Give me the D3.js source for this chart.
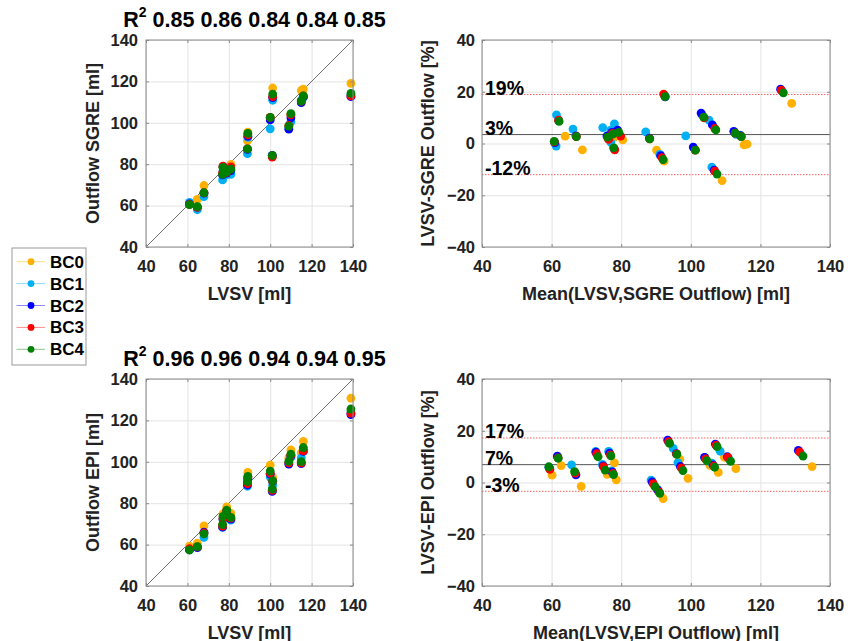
<!DOCTYPE html>
<html><head><meta charset="utf-8">
<script src="https://cdn.jsdelivr.net/npm/d3@7"></script>
<style>
body{margin:0;background:#fff}
text{font-family:"Liberation Sans",Arial,Helvetica,sans-serif;font-weight:bold;}
</style>
</head><body>
<svg id="c" width="848" height="641"></svg>
<script>
// ---------------- data ----------------
const bcLabels = ["BC0", "BC1", "BC2", "BC3", "BC4"];
const bcColors = ["#ffb000", "#00b0f5", "#0000ff", "#ff0000", "#008000"];

// LVSV per subject [ml]
const lvsv = [61.0, 64.8, 68.0, 77.0, 77.2, 79.0, 81.0, 89.0, 89.2, 100.0, 101.0, 101.2, 109.0, 110.0, 115.0, 116.0, 139.0];

// SGRE outflow [ml] per boundary condition
const sgreBC0 = [61.0, 63.0, 69.7, 75.5, 78.5, 77.1, 79.9, 91.3, 95.5, 102.5, 84.0, 116.8, 98.0, 104.0, 115.6, 116.3, 119.0];
const sgreBC1 = [61.6, 58.0, 64.3, 72.4, 76.9, 75.0, 75.1, 85.1, 93.0, 97.1, 84.0, 110.9, 97.5, 100.5, 111.0, 112.3, 113.5];
const sgreBC2 = [60.8, 59.3, 66.0, 74.8, 78.8, 75.7, 76.9, 87.2, 93.5, 101.4, 84.3, 112.2, 96.9, 102.4, 109.7, 112.5, 112.6];
const sgreBC3 = [60.6, 59.2, 66.2, 75.8, 79.1, 76.0, 78.7, 87.4, 94.2, 102.6, 83.4, 112.6, 98.7, 103.8, 110.5, 113.0, 113.0];
const sgreBC4 = [60.5, 59.5, 66.2, 75.1, 78.5, 76.2, 77.6, 87.4, 94.9, 102.6, 84.2, 113.9, 98.4, 104.4, 110.5, 113.0, 114.2];

// EPI outflow [ml] per boundary condition
const epiBC0 = [59.3, 60.7, 69.0, 69.6, 74.8, 78.2, 75.1, 90.2, 94.9, 98.4, 86.6, 92.5, 102.0, 105.8, 104.3, 109.9, 130.7];
const epiBC1 = [57.5, 58.8, 63.5, 68.3, 72.0, 75.5, 71.8, 88.2, 91.5, 92.6, 86.0, 88.7, 99.0, 102.1, 101.9, 106.0, 124.0];
const epiBC2 = [57.6, 58.5, 66.0, 68.5, 72.4, 75.8, 72.3, 88.8, 91.9, 94.0, 85.7, 90.5, 98.9, 102.8, 99.1, 105.0, 122.8];
const epiBC3 = [58.0, 58.9, 65.6, 68.9, 72.6, 76.3, 72.8, 89.4, 92.5, 94.5, 86.2, 90.6, 99.5, 103.2, 99.5, 105.3, 123.5];
const epiBC4 = [57.4, 59.0, 65.2, 69.7, 73.6, 76.6, 73.1, 90.4, 93.0, 95.5, 86.8, 90.8, 100.2, 103.7, 100.1, 106.9, 125.5];

const r2SGRE = [0.85, 0.86, 0.84, 0.84, 0.85];
const r2EPI = [0.96, 0.96, 0.94, 0.94, 0.95];

const xTicks = [40, 60, 80, 100, 120, 140];
const outflowTicks = [40, 60, 80, 100, 120, 140];
const diffTicks = [-40, -20, 0, 20, 40];

// Bland-Altman bias / limits of agreement [%] and their labels
const sgreBA = [3.45, 18.95, -12.05];
const sgreBALabels = ["3%", "19%", "-12%"];
const epiBA = [6.9, 17.2, -3.4];
const epiBALabels = ["7%", "17%", "-3%"];

// ---------------- drawing ----------------
const svg = d3.select("#c");
const gridCol = "#e3e3e3", frameCol = "#8a8a8a", txtCol = "#222";

function panel(x0, y0, w, h, xDom, yDom, yT) {
  const g = svg.append("g").attr("transform", `translate(${x0},${y0})`);
  const x = d3.scaleLinear().domain(xDom).range([0, w]);
  const y = d3.scaleLinear().domain(yDom).range([h, 0]);
  g.append("rect").attr("width", w).attr("height", h).attr("fill", "#fff");
  const gx = g.append("g").attr("transform", `translate(0,${h})`)
    .call(d3.axisBottom(x).tickValues(xTicks).tickSize(-h).tickFormat(""));
  const gy = g.append("g")
    .call(d3.axisLeft(y).tickValues(yT).tickSize(-w).tickFormat(""));
  [gx, gy].forEach(a => { a.select(".domain").remove(); a.selectAll("line").attr("stroke", gridCol); });
  const marks = g.append("g");
  const over = g.append("g");
  return {g, x, y, w, h, yT, marks, over};
}

function finish(p, xLabel, yLabel, yLabelX, padY) {
  const {g, x, y, w, h, yT} = p;
  const tk = [
    [d3.axisBottom(x).tickValues(xTicks), `translate(0,${h})`],
    [d3.axisTop(x).tickValues(xTicks), `translate(0,0)`],
    [d3.axisLeft(y).tickValues(yT), `translate(0,0)`],
    [d3.axisRight(y).tickValues(yT), `translate(${w},0)`]
  ];
  tk.forEach(([ax, tr]) => {
    const a = g.append("g").attr("transform", tr).call(ax.tickSize(-3).tickFormat(""));
    a.select(".domain").remove();
    a.selectAll("line").attr("stroke", frameCol);
  });
  g.append("rect").attr("width", w).attr("height", h).attr("fill", "none").attr("stroke", frameCol).attr("stroke-width", 1);
  const lx = g.append("g").attr("transform", `translate(0,${h})`)
    .call(d3.axisBottom(x).tickValues(xTicks).tickSize(0).tickPadding(13.5));
  const ly = g.append("g")
    .call(d3.axisLeft(y).tickValues(yT).tickSize(0).tickPadding(padY));
  [lx, ly].forEach(a => {
    a.select(".domain").remove();
    a.selectAll("text").attr("font-size", 16.5).attr("fill", txtCol)
      .attr("font-family", '"Liberation Sans",Arial,sans-serif').attr("font-weight", "bold");
  });
  g.append("text").attr("x", w / 2).attr("y", h + 52.5).attr("text-anchor", "middle")
    .attr("font-size", 18).attr("fill", txtCol).text(xLabel);
  g.append("text").attr("transform", `translate(${yLabelX},${h / 2}) rotate(-90)`)
    .attr("text-anchor", "middle").attr("font-size", 18).attr("fill", txtCol).text(yLabel);
}

function scatterPanel(x0, y0, series, r2, yLabel, titleY) {
  const p = panel(x0, y0, 207, 207, [40, 140], [40, 140], outflowTicks);
  p.marks.append("line")
    .attr("x1", p.x(40)).attr("y1", p.y(40)).attr("x2", p.x(140)).attr("y2", p.y(140))
    .attr("stroke", "#333").attr("stroke-width", 0.7);
  series.forEach((vals, b) => {
    p.marks.append("g").selectAll("circle").data(vals).join("circle")
      .attr("cx", (d, i) => p.x(lvsv[i])).attr("cy", d => p.y(d))
      .attr("r", 4.4).attr("fill", bcColors[b]);
  });
  finish(p, "LVSV [ml]", yLabel, -47, 8);
  const t = p.g.append("text").attr("x", p.w / 2 + 5).attr("y", titleY).attr("text-anchor", "middle")
    .attr("font-size", 21.5).attr("fill", "#000");
  t.append("tspan").text("R");
  t.append("tspan").attr("font-size", 14).attr("dy", -10).text("2");
  t.append("tspan").attr("dy", 10).text(" " + r2.map(v => v.toFixed(2)).join(" "));
}

function baPanel(x0, y0, series, lims, limLabels, xLabel, yLabel) {
  const p = panel(x0, y0, 348, 207, [40, 140], [-40, 40], diffTicks);
  lims.forEach((v, k) => {
    p.marks.append("line").attr("x1", 0).attr("x2", p.w).attr("y1", p.y(v)).attr("y2", p.y(v))
      .attr("stroke", k === 0 ? "#555" : "#ff6060").attr("stroke-width", 1)
      .attr("stroke-dasharray", k === 0 ? null : "1.5,1.5");
    p.over.append("text").attr("x", 3).attr("y", p.y(v) + 0.5).attr("font-size", 19.5).attr("fill", "#000")
      .text(limLabels[k]);
  });
  series.forEach((vals, b) => {
    const pts = vals.map((o, i) => {
      const m = (lvsv[i] + o) / 2;
      return {m, d: (lvsv[i] - o) / m * 100};
    });
    p.marks.append("g").selectAll("circle").data(pts).join("circle")
      .attr("cx", d => p.x(d.m)).attr("cy", d => p.y(d.d))
      .attr("r", 4.4).attr("fill", bcColors[b]);
  });
  finish(p, xLabel, yLabel, -48, 7);
}

scatterPanel(146, 40, [sgreBC0, sgreBC1, sgreBC2, sgreBC3, sgreBC4], r2SGRE, "Outflow SGRE [ml]", -13.5);
baPanel(482, 40, [sgreBC0, sgreBC1, sgreBC2, sgreBC3, sgreBC4], sgreBA, sgreBALabels,
  "Mean(LVSV,SGRE Outflow) [ml]", "LVSV-SGRE Outflow [%]");
scatterPanel(146, 379, [epiBC0, epiBC1, epiBC2, epiBC3, epiBC4], r2EPI, "Outflow EPI [ml]", -13.5);
baPanel(482, 379, [epiBC0, epiBC1, epiBC2, epiBC3, epiBC4], epiBA, epiBALabels,
  "Mean(LVSV,EPI Outflow) [ml]", "LVSV-EPI Outflow [%]");

// legend
const leg = svg.append("g").attr("transform", "translate(12,248)");
leg.append("rect").attr("width", 74).attr("height", 117).attr("fill", "#fff").attr("stroke", "#999").attr("stroke-width", 1);
bcLabels.forEach((lab, i) => {
  const yy = 13.7 + i * 21.9;
  leg.append("line").attr("x1", 4.5).attr("x2", 33).attr("y1", yy).attr("y2", yy)
    .attr("stroke", bcColors[i]).attr("stroke-opacity", 0.45).attr("stroke-width", 1);
  leg.append("circle").attr("cx", 19).attr("cy", yy).attr("r", 3.4).attr("fill", bcColors[i]);
  leg.append("text").attr("x", 38).attr("y", yy + 6).attr("font-size", 17).attr("fill", "#000").text(lab);
});
</script>
</body></html>
